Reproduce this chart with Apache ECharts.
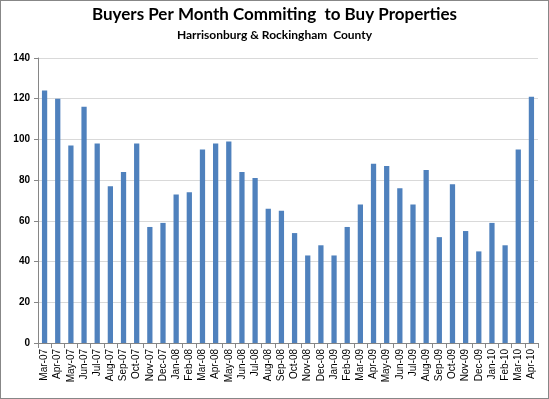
<!DOCTYPE html>
<html>
<head>
<meta charset="utf-8">
<script src="https://cdn.jsdelivr.net/npm/echarts@6/dist/echarts.min.js"></script>
<style>
  html, body { margin: 0; padding: 0; background: #fff; }
  #chart { width: 549px; height: 399px; box-sizing: border-box; border: 1px solid #878787; }
</style>
</head>
<body>
<div id="chart"></div>
<script>
// months on the x axis
const months = [
  'Mar-07', 'Apr-07', 'May-07', 'Jun-07', 'Jul-07', 'Aug-07', 'Sep-07', 'Oct-07', 'Nov-07', 'Dec-07',
  'Jan-08', 'Feb-08', 'Mar-08', 'Apr-08', 'May-08', 'Jun-08', 'Jul-08', 'Aug-08', 'Sep-08', 'Oct-08', 'Nov-08', 'Dec-08',
  'Jan-09', 'Feb-09', 'Mar-09', 'Apr-09', 'May-09', 'Jun-09', 'Jul-09', 'Aug-09', 'Sep-09', 'Oct-09', 'Nov-09', 'Dec-09',
  'Jan-10', 'Feb-10', 'Mar-10', 'Apr-10'
]
// buyers per month
const buyers = [
  124, 120, 97, 116, 98, 77, 84, 98, 57, 59,
  73, 74, 95, 98, 99, 84, 81, 66, 65, 54, 43, 48,
  43, 57, 68, 88, 87, 76, 68, 85, 52, 78, 55, 45,
  59, 48, 95, 121
]
const yTicks = [0, 20, 40, 60, 80, 100, 120, 140]

const chart = echarts.init(document.getElementById('chart'))
chart.setOption({
  animation: false,
  title: {
    text: 'Buyers Per Month Commiting  to Buy Properties',
    subtext: 'Harrisonburg & Rockingham  County',
    left: 'center',
    top: 0,
    padding: [5, 24, 5, 0], // title sits a bit left of centre
    itemGap: 6,
    textStyle: { fontFamily: 'Lato', fontWeight: 'bold', fontSize: 17, color: '#000' },
    subtextStyle: { fontFamily: 'Lato', fontWeight: 'bold', fontSize: 12, color: '#000' }
  },
  grid: { left: 37, right: 10, top: 57, bottom: 55 },
  xAxis: {
    type: 'category',
    data: months,
    axisLine: { lineStyle: { color: '#868686' } },
    axisTick: { show: true, length: 5, lineStyle: { color: '#868686' } },
    axisLabel: {
      rotate: 90,
      interval: 0,
      fontFamily: 'Liberation Sans',
      fontSize: 10,
      color: '#000',
      margin: 6
    }
  },
  yAxis: {
    type: 'value',
    min: yTicks[0],
    max: yTicks[yTicks.length - 1],
    interval: 20,
    axisLine: { show: true, lineStyle: { color: '#868686' } },
    axisTick: { show: true, length: 4, lineStyle: { color: '#868686' } },
    splitLine: { lineStyle: { color: '#d9d9d9' } },
    axisLabel: {
      fontFamily: 'Liberation Sans',
      fontWeight: 'bold',
      fontSize: 10,
      color: '#000',
      margin: 8
    }
  },
  series: [{
    type: 'bar',
    data: buyers,
    barWidth: '40%',
    itemStyle: { color: '#4f81bd' }
  }]
})
</script>
</body>
</html>
